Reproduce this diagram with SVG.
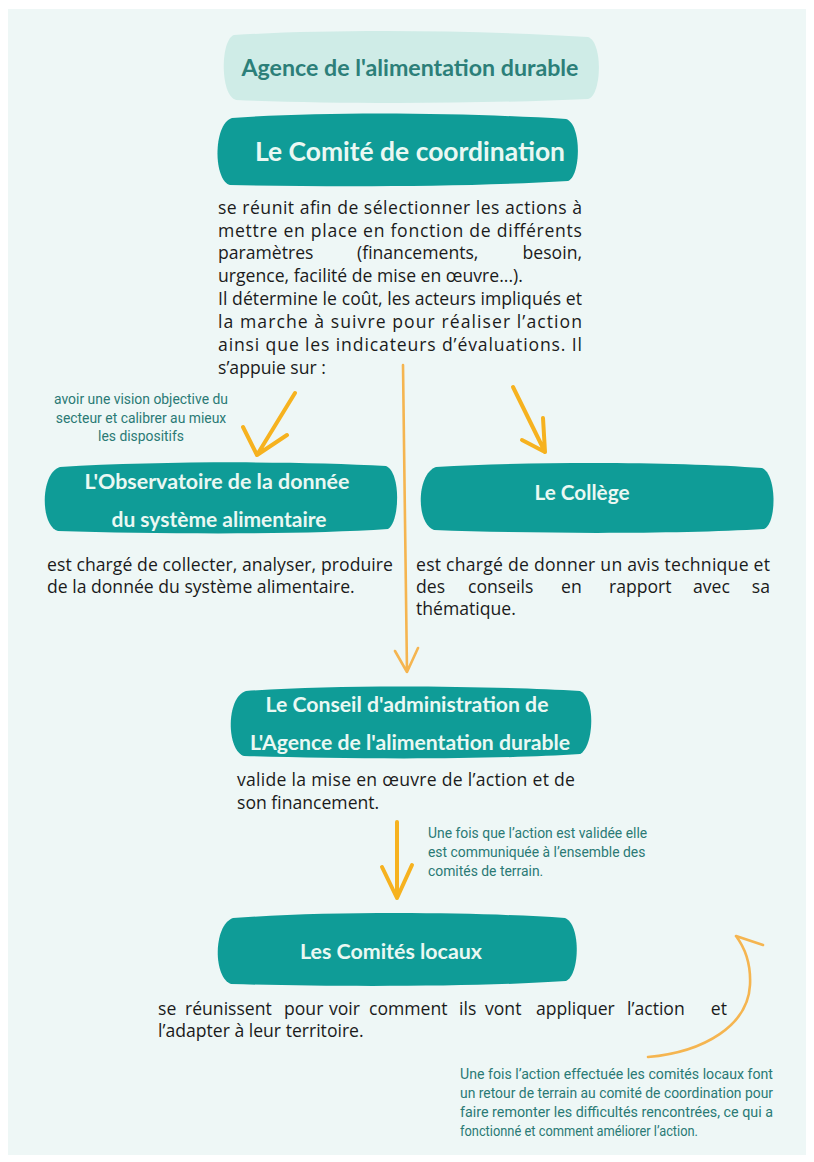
<svg xmlns="http://www.w3.org/2000/svg" width="814" height="1162" viewBox="0 0 814 1162">
<style>
.hdr{font-family:Lato,"Liberation Sans",sans-serif;font-weight:700;fill:#eaf8f3;text-anchor:middle}
.hdr2{font-family:Lato,"Liberation Sans",sans-serif;font-weight:700;fill:#2c7f79;text-anchor:middle}
.blob{fill:#0f9c97}
.body{font-family:"Open Sans","Liberation Sans",sans-serif;font-size:17.6px;fill:#1b1b1b}
.note{font-family:Roboto,"Liberation Sans",sans-serif;font-size:13.9px;fill:#2a7a75}
.arr{fill:none;stroke:#f6b21f;stroke-width:4;stroke-linecap:round;stroke-linejoin:round}
.arr2{fill:none;stroke:#f5b550;stroke-width:2.6;stroke-linecap:round;stroke-linejoin:round}
</style>
<rect width="814" height="1162" fill="#ffffff"/>
<rect x="8" y="9" width="798" height="1146" fill="#eef7f6"/>

<g id="connectors">
  <path class="arr" d="M295 393 L257 455 M243 427 L257 455 L287 435"/>
  <path class="arr" d="M513 387 L545 452 M543 418 L545 452 L522 440"/>
  <path class="arr2" d="M403 365 L405 520 L407 672 M395 651 L407 672 L418 648"/>
  <path class="arr" d="M397 822 L397 898 M382 867 L397 898 L412 865"/>
  <path class="arr2" d="M648 1057 C705 1052 748 1025 750 985 C751 965 745 948 736 936 M736 936 L763 945"/>
</g>

<g id="agence">
  <path d="M234 35 C330 29 480 30 588 37 C603 42 602 95 588 99 C480 104 330 104 236 100 C220 96 220 40 234 35 Z" fill="#cfece7"/>
  <text class="hdr2" x="410" y="76" font-size="22" textLength="337" lengthAdjust="spacingAndGlyphs">Agence de l'alimentation durable</text>
</g>

<g id="comite-coordination">
  <path class="blob" d="M232 118 C330 111 470 113 566 119 C582 124 581 176 568 181 C470 187 330 187 230 185 C213 180 213 124 232 118 Z"/>
  <text class="hdr" x="410" y="161" font-size="26" textLength="310" lengthAdjust="spacingAndGlyphs">Le Comité de coordination</text>
  <text class="body" x="218" y="214" textLength="364" lengthAdjust="spacing">se réunit afin de sélectionner les actions à</text>
  <text class="body" x="218" y="237" textLength="364" lengthAdjust="spacing">mettre en place en fonction de différents</text>
  <text class="body" y="259"><tspan x="218">paramètres</tspan><tspan x="357">(financements,</tspan><tspan x="582" text-anchor="end">besoin,</tspan></text>
  <text class="body" x="218" y="282">urgence, facilité de mise en œuvre...).</text>
  <text class="body" x="218" y="305" textLength="364" lengthAdjust="spacing">Il détermine le coût, les acteurs impliqués et</text>
  <text class="body" x="218" y="328" textLength="364" lengthAdjust="spacing">la marche à suivre pour réaliser l’action</text>
  <text class="body" x="218" y="351" textLength="364" lengthAdjust="spacing">ainsi que les indicateurs d’évaluations. Il</text>
  <text class="body" x="218" y="374">s’appuie sur :</text>
</g>

<g id="note-observatoire">
  <text class="note" text-anchor="middle" x="141" y="404">avoir une vision objective du</text>
  <text class="note" text-anchor="middle" x="141" y="423">secteur et calibrer au mieux</text>
  <text class="note" text-anchor="middle" x="141" y="441">les dispositifs</text>
</g>

<g id="observatoire">
  <path class="blob" d="M60 467 C160 461 300 461 386 466 C401 472 400 522 388 529 C300 535 160 534 58 531 C40 526 40 473 60 467 Z"/>
  <text class="hdr" x="217" y="489" font-size="20" textLength="265" lengthAdjust="spacingAndGlyphs">L'Observatoire de la donnée</text>
  <text class="hdr" x="219" y="527" font-size="20" textLength="215" lengthAdjust="spacingAndGlyphs">du système alimentaire</text>
  <text class="body" x="47" y="571" textLength="346" lengthAdjust="spacing">est chargé de collecter, analyser, produire</text>
  <text class="body" x="47" y="593">de la donnée du système alimentaire.</text>
</g>

<g id="college">
  <path class="blob" d="M436 467 C540 461 680 462 762 468 C777 474 777 524 764 529 C680 534 540 534 434 530 C416 524 416 474 436 467 Z"/>
  <text class="hdr" x="582" y="500" font-size="20" textLength="95" lengthAdjust="spacingAndGlyphs">Le Collège</text>
  <text class="body" x="416" y="571" textLength="354" lengthAdjust="spacing">est chargé de donner un avis technique et</text>
  <text class="body" y="593"><tspan x="416">des</tspan><tspan x="468">conseils</tspan><tspan x="561">en</tspan><tspan x="609">rapport</tspan><tspan x="693">avec</tspan><tspan x="770" text-anchor="end">sa</tspan></text>
  <text class="body" x="416" y="615">thématique.</text>
</g>

<g id="conseil">
  <path class="blob" d="M246 691 C340 684 490 686 580 691 C596 697 594 747 580 754 C490 760 340 759 244 756 C226 750 226 697 246 691 Z"/>
  <text class="hdr" x="407" y="712" font-size="20" textLength="283" lengthAdjust="spacingAndGlyphs">Le Conseil d'administration de</text>
  <text class="hdr" x="410" y="750" font-size="20" textLength="320" lengthAdjust="spacingAndGlyphs">L'Agence de l'alimentation durable</text>
  <text class="body" x="237" y="786" textLength="338" lengthAdjust="spacing">valide la mise en œuvre de l’action et de</text>
  <text class="body" x="237" y="809">son financement.</text>
</g>

<g id="note-validee">
  <text class="note" x="428" y="838">Une fois que l’action est validée elle</text>
  <text class="note" x="428" y="857">est communiquée à l’ensemble des</text>
  <text class="note" x="428" y="876">comités de terrain.</text>
</g>

<g id="comites-locaux">
  <path class="blob" d="M233 918 C330 911 480 912 565 918 C581 924 580 975 566 981 C480 987 330 987 231 984 C213 978 213 925 233 918 Z"/>
  <text class="hdr" x="391" y="959" font-size="20" textLength="182" lengthAdjust="spacingAndGlyphs">Les Comités locaux</text>
  <text class="body" y="1015"><tspan x="158">se</tspan><tspan x="185">réunissent</tspan><tspan x="284">pour</tspan><tspan x="329">voir</tspan><tspan x="369">comment</tspan><tspan x="459">ils</tspan><tspan x="485">vont</tspan><tspan x="536">appliquer</tspan><tspan x="627">l’action</tspan><tspan x="727" text-anchor="end">et</tspan></text>
  <text class="body" x="158" y="1037">l’adapter à leur territoire.</text>
</g>

<g id="note-retour">
  <text class="note" x="460" y="1079" textLength="313" lengthAdjust="spacingAndGlyphs">Une fois l’action effectuée les comités locaux font</text>
  <text class="note" x="460" y="1098" textLength="313" lengthAdjust="spacingAndGlyphs">un retour de terrain au comité de coordination pour</text>
  <text class="note" x="460" y="1117" textLength="313" lengthAdjust="spacingAndGlyphs">faire remonter les difficultés rencontrées, ce qui a</text>
  <text class="note" x="460" y="1136" textLength="238" lengthAdjust="spacingAndGlyphs">fonctionné et comment améliorer l’action.</text>
</g>
</svg>
